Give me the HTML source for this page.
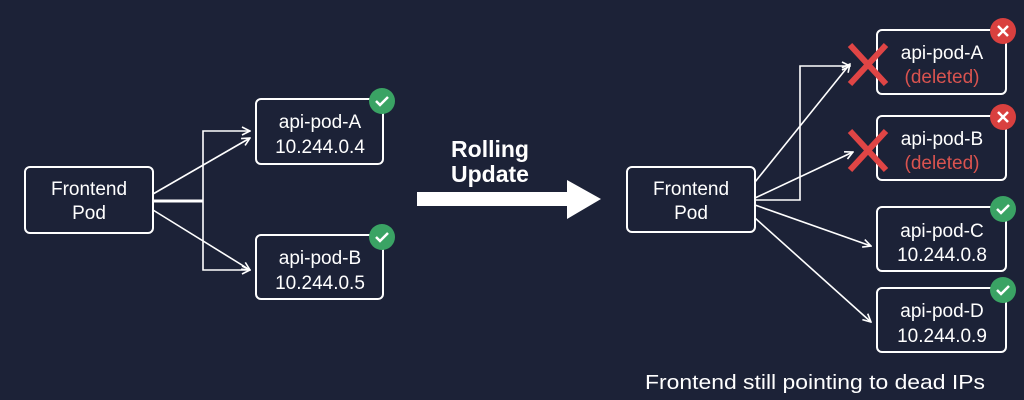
<!DOCTYPE html>
<html><head><meta charset="utf-8"><style>
html,body{margin:0;padding:0;background:#1c2237;}
svg{display:block}
text{font-family:"Liberation Sans",sans-serif;fill:#fff}
</style></head><body>
<svg width="1024" height="400" viewBox="0 0 1024 400">
<defs>
<marker id="ah" markerWidth="10" markerHeight="10" refX="9" refY="5" orient="auto" markerUnits="userSpaceOnUse">
<path d="M1,1 L9,5 L1,9" fill="none" stroke="#fff" stroke-width="1.6"/>
</marker>
</defs>
<rect width="1024" height="400" fill="#1c2237"/>
<g fill="none" stroke="#fff" stroke-width="2">
<rect x="25" y="167" width="128" height="66" rx="5"/>
<rect x="256" y="99" width="127" height="65" rx="5"/>
<rect x="256" y="235" width="127" height="64" rx="5"/>
<rect x="627" y="167" width="128" height="65" rx="5"/>
<rect x="877" y="30" width="129" height="64" rx="5"/>
<rect x="877" y="116" width="129" height="64" rx="5"/>
<rect x="877" y="207" width="129" height="64" rx="5"/>
<rect x="877" y="288" width="129" height="64" rx="5"/>
</g>
<g fill="none" stroke="#fff" stroke-width="1.6" marker-end="url(#ah)">
<line x1="153" y1="194" x2="250" y2="138"/>
<line x1="153" y1="210" x2="250" y2="270"/>
<polyline points="203,200 203,131 250,131"/>
<polyline points="203,200 203,270 250,270"/>
<line x1="755" y1="182" x2="850" y2="64"/>
<polyline points="755,200 800,200 800,66 850,66"/>
<line x1="755" y1="198" x2="853" y2="152"/>
<line x1="755" y1="205" x2="871" y2="246"/>
<line x1="755" y1="218" x2="871" y2="322"/>
</g>
<line x1="153" y1="201" x2="203" y2="201" stroke="#fff" stroke-width="3"/>
<path d="M417,192 H567 V180 L601,199 L567,219 V206 H417 Z" fill="#fff"/>
<text x="490" y="157" font-size="23" font-weight="bold" text-anchor="middle">Rolling</text>
<text x="490" y="182" font-size="23" font-weight="bold" text-anchor="middle">Update</text>
<g font-size="19" text-anchor="middle">
<text x="89" y="195">Frontend</text><text x="89" y="219">Pod</text>
<text x="320" y="128">api-pod-A</text><text x="320" y="153">10.244.0.4</text>
<text x="320" y="264">api-pod-B</text><text x="320" y="289">10.244.0.5</text>
<text x="691" y="195">Frontend</text><text x="691" y="219">Pod</text>
<text x="942" y="59">api-pod-A</text><text x="942" y="83" style="fill:#d9534f">(deleted)</text>
<text x="942" y="145">api-pod-B</text><text x="942" y="169" style="fill:#d9534f">(deleted)</text>
<text x="942" y="237">api-pod-C</text><text x="942" y="261">10.244.0.8</text>
<text x="942" y="317">api-pod-D</text><text x="942" y="342">10.244.0.9</text>
</g>
<text x="815" y="389" font-size="20" text-anchor="middle" textLength="340" lengthAdjust="spacingAndGlyphs">Frontend still pointing to dead IPs</text>
<g stroke="#e04545" stroke-width="6" stroke-linecap="butt">
<line x1="850" y1="45" x2="886" y2="84"/><line x1="886" y1="45" x2="850" y2="84"/>
<line x1="850" y1="131" x2="886" y2="170"/><line x1="886" y1="131" x2="850" y2="170"/>
</g>
<g>
<circle cx="382" cy="101" r="13" fill="#3aa364"/>
<path d="M376,101 L380,105 L388,97" fill="none" stroke="#fff" stroke-width="2.5"/>
<circle cx="382" cy="237" r="13" fill="#3aa364"/>
<path d="M376,237 L380,241 L388,233" fill="none" stroke="#fff" stroke-width="2.5"/>
<circle cx="1003" cy="209" r="13" fill="#3aa364"/>
<path d="M997,209 L1001,213 L1009,205" fill="none" stroke="#fff" stroke-width="2.5"/>
<circle cx="1003" cy="290" r="13" fill="#3aa364"/>
<path d="M997,290 L1001,294 L1009,286" fill="none" stroke="#fff" stroke-width="2.5"/>
<circle cx="1003" cy="31" r="13" fill="#d9403f"/>
<path d="M998,26 L1008,36 M1008,26 L998,36" stroke="#fff" stroke-width="2.5"/>
<circle cx="1003" cy="117" r="13" fill="#d9403f"/>
<path d="M998,112 L1008,122 M1008,112 L998,122" stroke="#fff" stroke-width="2.5"/>
</g>
</svg>
</body></html>
